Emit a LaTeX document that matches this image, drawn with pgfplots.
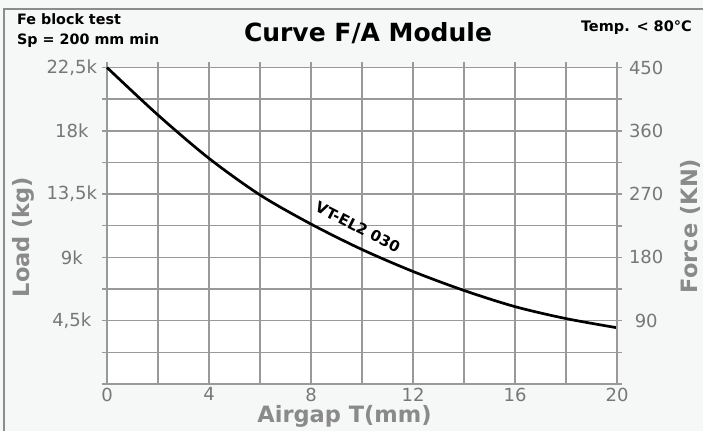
\documentclass[border=0pt]{standalone}
\usepackage{pgfplots}
\pgfplotsset{compat=1.18}
\usepackage{fontspec}
\setmainfont{DejaVu Sans}
\definecolor{bg}{HTML}{F6F7F7}
\definecolor{gridc}{HTML}{999999}
\definecolor{tickc}{HTML}{777777}
\definecolor{labc}{HTML}{8A8A8A}
\definecolor{framec}{HTML}{8C8C8C}
\begin{document}
\begin{tikzpicture}[x=1pt,y=1pt]
\path[use as bounding box, fill=bg] (0,0) rectangle (703,431);
\draw[framec, line width=1.2pt] (4,0) -- (4,422) -- (703,422);
\begin{axis}[
  at={(107pt,47pt)}, anchor=south west,
  scale only axis, width=510pt, height=316.5pt,
  xmin=0, xmax=20, ymin=0, ymax=22500,
  axis background/.style={fill=white},
  xtick={0,2,4,6,8,10,12,14,16,18,20},
  xticklabels={0,,4,,8,,12,,16,,20},
  ytick={0,2250,4500,6750,9000,11250,13500,15750,18000,20250,22500},
  yticklabels={,,{4,5k},,9k,,{13,5k},,18k,,{22,5k}},
  scaled y ticks=false,
  grid=major, grid style={gridc, line width=1.5pt},
  axis line style={gridc, line width=1.5pt},
  tick style={gridc, line width=1.5pt},
  tick align=outside, major tick length=5pt,
  xtick pos=right, xticklabel pos=left,
  ytick pos=left, yticklabel pos=left,
  ticklabel style={font=\fontsize{18}{18}\selectfont, text=tickc},
  yticklabel style={text width=56pt, align=center, inner xsep=0pt, xshift=-2pt},
  xticklabel style={inner ysep=0pt, yshift=1.5pt},
  clip=false,
]
\addplot[black, line width=2.7pt, smooth] coordinates {
(0,22500)(2,19120)(4,16040)(6,13440)(8,11370)(10,9560)(12,8000)(14,6650)(16,5500)(18,4650)(20,4000)};
\node[font=\bfseries\fontsize{15}{15}\selectfont, rotate=-27] at (axis cs:9.84,11150) {VT-EL2 030};
\end{axis}
\begin{axis}[
  at={(107pt,47pt)}, anchor=south west,
  scale only axis, width=510pt, height=316.5pt,
  xmin=0, xmax=20, ymin=0, ymax=450,
  axis x line=none, axis y line*=right,
  ytick={0,45,90,135,180,225,270,315,360,405,450},
  yticklabels={,,90,,180,,270,,360,,450},
  axis line style={gridc, line width=1.5pt},
  tick style={gridc, line width=1.5pt},
  tick align=outside, major tick length=5pt,
  ticklabel style={font=\fontsize{18}{18}\selectfont, text=tickc},
  yticklabel style={text width=48pt, align=center, inner xsep=0pt},
]
\end{axis}
\node[rotate=90, font=\bfseries\fontsize{22.5}{22.5}\selectfont, text=labc] at (23.5,194) {Load (kg)};
\node[rotate=90, font=\bfseries\fontsize{22.5}{22.5}\selectfont, text=labc] at (690,205) {Force (KN)};
\node[anchor=base, font=\bfseries\fontsize{22.5}{22.5}\selectfont, text=labc, inner sep=0pt] at (344.5,9) {Airgap T(mm)};
\node[anchor=base, font=\bfseries\fontsize{25}{25}\selectfont, inner sep=0pt] at (368,389) {Curve F/A Module};
\node[anchor=base west, font=\bfseries\fontsize{14.3}{14.3}\selectfont, inner sep=0pt] at (17,406) {Fe block test};
\node[anchor=base west, font=\bfseries\fontsize{14.3}{14.3}\selectfont, inner sep=0pt] at (17,386) {Sp = 200 mm min};
\node[anchor=base east, font=\bfseries\fontsize{14.5}{14.5}\selectfont, inner sep=0pt] at (692,399) {Temp. < 80°C};
\end{tikzpicture}
\end{document}
